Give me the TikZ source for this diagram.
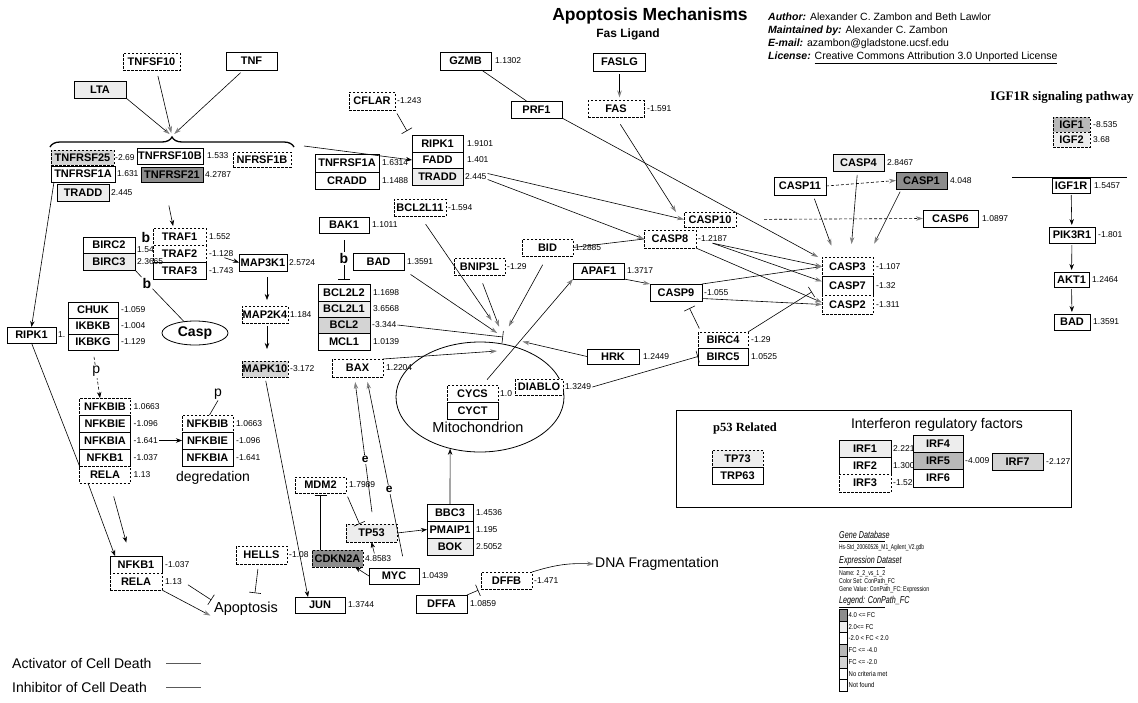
\documentclass[tikz,border=0pt]{standalone}
\usepackage{fontspec}
\setmainfont{Liberation Sans}
\newfontfamily\serifbold{Liberation Serif}
\usetikzlibrary{positioning,shapes.geometric,arrows.meta,decorations.pathreplacing}

\definecolor{fchi}{gray}{0.55}
\definecolor{fcup}{gray}{0.93}
\definecolor{fclo}{gray}{0.72}
\definecolor{fcdn}{gray}{0.83}

\tikzset{
  gene/.style={draw, fill=white, line width=0.8pt, inner sep=0pt, outer sep=0pt,
    minimum height=17pt, font=\fontsize{11}{11}\selectfont\bfseries},
  genedash/.style={gene, dash pattern=on 2.5pt off 1.5pt},
  val/.style={inner sep=1pt, font=\fontsize{8.5}{8.5}\selectfont},
  tag/.style={inner sep=1pt, font=\fontsize{14}{14}\selectfont},
  tagb/.style={inner sep=1pt, font=\fontsize{14}{14}\selectfont\bfseries},
  act/.style={line width=0.6pt, -{Stealth[length=7pt, width=4.5pt, color=gray]}},
  blk/.style={line width=0.6pt, -{Stealth[length=6pt, width=4.5pt]}},
  inh/.style={line width=0.6pt, -{Bar[width=12pt]}},
  link/.style={line width=0.6pt},
  legtext/.style={anchor=west, inner sep=0pt, font=\fontsize{7}{7}\selectfont},
  leghead/.style={anchor=west, inner sep=0pt, font=\fontsize{10}{10}\selectfont\itshape},
}

\begin{document}
\begin{tikzpicture}[x=1pt, y=-1pt]
\useasboundingbox (0,0) rectangle (1138,702);

% header and credits
\node[font=\fontsize{17.5}{17.5}\selectfont\bfseries] (title) at (650,16) {Apoptosis Mechanisms};
\node[font=\fontsize{12}{12}\selectfont\bfseries] (faslig) at (628,34) {Fas Ligand};
\node[anchor=west, inner sep=0pt, font=\fontsize{10.5}{10.5}\selectfont] (auth) at (768,17) {\textbf{\textit{Author:}} Alexander C. Zambon and Beth Lawlor};
\node[anchor=west, inner sep=0pt, font=\fontsize{10.5}{10.5}\selectfont] (maint) at (768,31) {\textbf{\textit{Maintained by:}} Alexander C. Zambon};
\node[anchor=west, inner sep=0pt, font=\fontsize{10.5}{10.5}\selectfont] (email) at (768,44) {\textbf{\textit{E-mail:}} azambon@gladstone.ucsf.edu};
\node[anchor=west, inner sep=0pt, font=\fontsize{10.5}{10.5}\selectfont] (lic) at (768,58) {\textbf{\textit{License:}} \underline{Creative Commons Attribution 3.0 Unported License}};

% ligands and receptors
\node[genedash, minimum width=57pt] (tnfsften) at (151.5,61.5) {TNFSF10};
\node[gene, minimum width=51pt, minimum height=18pt] (tnf) at (251.5,61) {TNF};
\node[gene, fill=fcup, minimum width=52pt] (lta) at (100,89.5) {LTA};
\draw[decorate, decoration={brace, amplitude=10pt}, line width=1.3pt] (50,147) -- (294,147);
\coordinate (recep) at (172,136);
\coordinate (recr) at (304,146);
\node[genedash, fill=fcdn, minimum width=63pt, minimum height=15pt] (tnfrsf25) at (82.5,157.5) {TNFRSF25};
\node[val, right=0pt of tnfrsf25] (tnfrsf25v) {-2.69};
\node[gene, minimum width=66pt, minimum height=16pt] (tnfrsften) at (170,156) {TNFRSF10B};
\node[val, right=3pt of tnfrsften] (tnfrsftenv) {1.533};
\node[genedash, minimum width=58pt, minimum height=15pt] (tnfrsfoneb) at (262,159.5) {NFRSF1B};
\node[gene, minimum width=64pt, minimum height=16pt] (tnfrsfonea) at (83,174) {TNFRSF1A};
\node[val, right=1pt of tnfrsfonea] (tnfrsfoneav) {1.631};
\node[gene, fill=fchi, minimum width=62pt, minimum height=15pt] (tnfrsf21) at (172,174.5) {TNFRSF21};
\node[val, right=1pt of tnfrsf21] (tnfrsf21v) {4.2787};
\node[gene, fill=fcup, minimum width=52pt] (traddA) at (83,192.5) {TRADD};
\node[val, right=1pt of traddA] (traddAv) {2.445};

% TRAF / BIRC / MAP kinases
\node[genedash, minimum width=53pt] (trafone) at (179.5,236.5) {TRAF1};
\node[genedash, minimum width=53pt, below=0pt of trafone] (traftwo) {TRAF2};
\node[gene, minimum width=53pt, below=0pt of traftwo] (trafthree) {TRAF3};
\node[val, right=2pt of trafone] (trafonev) {1.552};
\node[val, right=2pt of traftwo] (traftwov) {-1.128};
\node[val, right=2pt of trafthree] (trafthreev) {-1.743};
\node[gene, minimum width=52pt, minimum height=16pt] (birctwo) at (109,245) {BIRC2};
\node[gene, fill=fcup, minimum width=52pt, below=0pt of birctwo] (bircthree) {BIRC3};
\node[val, anchor=west] (birctwov) at ([xshift=1pt, yshift=-4.5pt]birctwo.east) {1.54};
\node[val, right=1pt of bircthree] (bircthreev) {2.3665};
\node[tagb] (bA) at (146,237.5) {b};
\node[tagb] (bB) at (147,283) {b};
\node[draw, ellipse, line width=0.8pt, minimum width=66pt, minimum height=24pt, inner sep=0pt,
  font=\fontsize{14}{14}\selectfont\bfseries] (casp) at (195,333) {Casp};
\node[gene, minimum width=48pt] (mapthreek) at (263,262.5) {MAP3K1};
\node[val, right=1pt of mapthreek] (mapthreekv) {2.5724};
\node[genedash, minimum width=46pt] (maptwok) at (265,314.5) {MAP2K4};
\node[val, right=1pt of maptwok] (maptwokv) {1.184};
\node[genedash, fill=fcdn, minimum width=46pt, minimum height=16pt] (mapkten) at (265,369) {MAPK10};
\node[val, right=1pt of mapkten] (mapktenv) {-3.172};

% IKK and NF-kB
\node[gene, minimum width=50pt, minimum height=16pt] (chuk) at (93,310) {CHUK};
\node[gene, minimum width=50pt, minimum height=16pt, below=0pt of chuk] (ikbkb) {IKBKB};
\node[gene, minimum width=50pt, minimum height=16pt, below=0pt of ikbkb] (ikbkg) {IKBKG};
\node[val, right=2pt of chuk] (chukv) {-1.059};
\node[val, right=2pt of ikbkb] (ikbkbv) {-1.004};
\node[val, right=2pt of ikbkg] (ikbkgv) {-1.129};
\node[gene, minimum width=49pt, minimum height=16pt] (ripkA) at (31.5,335) {RIPK1};
\node[val, right=1pt of ripkA] (ripkAv) {1.};
\node[genedash, minimum width=51pt] (nfkbibA) at (105,406.5) {NFKBIB};
\node[gene, minimum width=51pt, below=0pt of nfkbibA] (nfkbieA) {NFKBIE};
\node[gene, minimum width=51pt, below=0pt of nfkbieA] (nfkbiaA) {NFKBIA};
\node[gene, minimum width=51pt, below=0pt of nfkbiaA] (nfkbA) {NFKB1};
\node[genedash, minimum width=51pt, below=0pt of nfkbA] (relaA) {RELA};
\node[val, right=2pt of nfkbibA] (nfkbibAv) {1.0663};
\node[val, right=2pt of nfkbieA] (nfkbieAv) {-1.096};
\node[val, right=2pt of nfkbiaA] (nfkbiaAv) {-1.641};
\node[val, right=2pt of nfkbA] (nfkbAv) {-1.037};
\node[val, right=2pt of relaA] (relaAv) {1.13};
\node[genedash, minimum width=51pt] (nfkbibB) at (207.5,423.5) {NFKBIB};
\node[gene, minimum width=51pt, below=0pt of nfkbibB] (nfkbieB) {NFKBIE};
\node[gene, minimum width=51pt, below=0pt of nfkbieB] (nfkbiaB) {NFKBIA};
\node[val, right=2pt of nfkbibB] (nfkbibBv) {1.0663};
\node[val, right=2pt of nfkbieB] (nfkbieBv) {-1.096};
\node[val, right=2pt of nfkbiaB] (nfkbiaBv) {-1.641};
\node[tag] (pB) at (218,394) {p};
\node[tag] (degr) at (213,478) {degredation};
\node[gene, minimum width=52pt] (nfkbB) at (136,564.5) {NFKB1};
\node[genedash, minimum width=52pt, below=0pt of nfkbB] (relaB) {RELA};
\node[val, right=2pt of nfkbB] (nfkbBv) {-1.037};
\node[val, right=2pt of relaB] (relaBv) {1.13};
\node[font=\fontsize{14.5}{14.5}\selectfont, inner sep=1pt] (apop) at (246,609) {Apoptosis};
\node[genedash, minimum width=51pt, minimum height=18pt] (hells) at (261.5,555) {HELLS};
\node[val, right=1pt of hells] (hellsv) {-1.08};
\node[gene, minimum width=50pt, minimum height=16pt] (jun) at (320,605) {JUN};
\node[val, right=2pt of jun] (junv) {1.3744};

% p53, MYC, DFF
\node[genedash, minimum width=51pt, minimum height=16pt] (mdm) at (320.5,485) {MDM2};
\node[val, right=2pt of mdm] (mdmv) {1.7989};
\node[genedash, fill=fcup, minimum width=51pt, minimum height=18pt] (tpft) at (371.5,533) {TP53};
\node[genedash, fill=fchi, minimum width=51pt] (cdkn) at (337.5,558.5) {CDKN2A};
\node[val, right=1pt of cdkn] (cdknv) {4.8583};
\node[gene, minimum width=50pt, minimum height=16pt] (myc) at (394,576) {MYC};
\node[val, right=2pt of myc] (mycv) {1.0439};
\node[gene, minimum width=46pt] (bbcthree) at (450,512.5) {BBC3};
\node[gene, minimum width=46pt, below=0pt of bbcthree] (pmaip) {PMAIP1};
\node[gene, fill=fcup, minimum width=46pt, below=0pt of pmaip] (bok) {BOK};
\node[val, right=2pt of bbcthree] (bbcthreev) {1.4536};
\node[val, right=2pt of pmaip] (pmaipv) {1.195};
\node[val, right=2pt of bok] (bokv) {2.5052};
\node[gene, minimum width=51pt, minimum height=18pt] (dffa) at (441.5,604) {DFFA};
\node[val, right=2pt of dffa] (dffav) {1.0859};
\node[genedash, minimum width=51pt] (dffb) at (506.5,580.5) {DFFB};
\node[val, right=1pt of dffb] (dffbv) {-1.471};
\node[font=\fontsize{14}{14}\selectfont, inner sep=1pt] (dna) at (657,564) {DNA Fragmentation};

% mitochondrion and BCL2 family
\node[draw, ellipse, line width=0.8pt, minimum width=168pt, minimum height=110pt] (mito) at (480,397) {};
\node[font=\fontsize{14.5}{14.5}\selectfont] (mitolab) at (478,427) {Mitochondrion};
\node[genedash, minimum width=51pt] (cycs) at (472.5,393.5) {CYCS};
\node[val, right=1pt of cycs] (cycsv) {1.0};
\node[gene, minimum width=51pt, below=0pt of cycs] (cyct) {CYCT};
\node[genedash, minimum width=48pt, minimum height=16pt] (diablo) at (539,387) {DIABLO};
\node[val, right=1pt of diablo] (diablov) {1.3249};
\coordinate (mpt) at (503,337);
\coordinate (mbax) at (497,351);
\node[gene, minimum width=50pt, minimum height=16pt] (bakone) at (344,225) {BAK1};
\node[val, right=2pt of bakone] (bakonev) {1.1011};
\node[gene, minimum width=51pt] (badM) at (378.5,261.5) {BAD};
\node[val, right=2pt of badM] (badMv) {1.3591};
\node[gene, minimum width=52pt] (bcltwoltwo) at (344,292.5) {BCL2L2};
\node[gene, fill=fcup, minimum width=52pt, minimum height=16pt, below=0pt of bcltwoltwo] (bcltwolone) {BCL2L1};
\node[gene, fill=fcdn, minimum width=52pt, minimum height=16pt, below=0pt of bcltwolone] (bcltwo) {BCL2};
\node[gene, minimum width=52pt, below=0pt of bcltwo] (mclone) {MCL1};
\node[val, right=2pt of bcltwoltwo] (bcltwoltwov) {1.1698};
\node[val, right=2pt of bcltwolone] (bcltwolonev) {3.6568};
\node[val, right=1pt of bcltwo] (bcltwov) {-3.344};
\node[val, right=2pt of mclone] (mclonev) {1.0139};
\node[genedash, minimum width=51pt, minimum height=18pt] (bax) at (357.5,368) {BAX};
\node[val, right=2pt of bax] (baxv) {1.2204};
\node[genedash, minimum width=52pt] (bcltwolelev) at (420,207.5) {BCL2L11};
\node[val, right=1pt of bcltwolelev] (bcltwolelevv) {-1.594};
\node[genedash, minimum width=51pt] (bnip) at (479.5,266.5) {BNIP3L};
\node[val, right=1pt of bnip] (bnipv) {-1.29};
\node[genedash, minimum width=51pt] (bid) at (547.5,247.5) {BID};
\node[val, right=1pt of bid] (bidv) {1.2885};
\node[gene, minimum width=51pt, minimum height=16pt] (apaf) at (598.5,271) {APAF1};
\node[val, right=2pt of apaf] (apafv) {1.3717};
\node[gene, minimum width=52pt, minimum height=15pt] (hrk) at (613,356.5) {HRK};
\node[val, right=3pt of hrk] (hrkv) {1.2449};

% death receptor complexes
\node[genedash, minimum width=46pt, minimum height=18pt] (cflar) at (372,101) {CFLAR};
\node[val, right=1pt of cflar] (cflarv) {-1.243};
\node[gene, minimum width=51pt] (ripkB) at (437.5,143.5) {RIPK1};
\node[gene, minimum width=51pt, minimum height=16pt, below=0pt of ripkB] (fadd) {FADD};
\node[gene, fill=fcup, minimum width=51pt, below=0pt of fadd] (traddB) {TRADD};
\node[val, right=3pt of ripkB] (ripkBv) {1.9101};
\node[val, right=3pt of fadd] (faddv) {1.401};
\node[val, right=1pt of traddB] (traddBv) {2.445};
\node[gene, minimum width=64pt, minimum height=18pt] (tnfrsfoneaB) at (347,163) {TNFRSF1A};
\node[gene, minimum width=64pt, below=0pt of tnfrsfoneaB] (cradd) {CRADD};
\node[val, right=2pt of tnfrsfoneaB] (tnfrsfoneaBv) {1.6314};
\node[val, right=2pt of cradd] (craddv) {1.1488};
\node[gene, minimum width=51pt, minimum height=18pt] (gzmb) at (465.5,61) {GZMB};
\node[val, right=3pt of gzmb] (gzmbv) {1.1302};
\node[gene, minimum width=51pt] (prfone) at (536.5,109.5) {PRF1};
\node[gene, minimum width=52pt, minimum height=18pt] (faslg) at (619.5,62) {FASLG};
\node[genedash, minimum width=56pt] (fas) at (616,109) {FAS};
\node[val, right=2pt of fas] (fasv) {-1.591};

% caspases
\node[genedash, minimum width=52pt, minimum height=15pt] (caspten) at (710,219.5) {CASP10};
\node[genedash, minimum width=52pt, minimum height=18pt] (caspeight) at (670,239) {CASP8};
\node[val, right=1pt of caspeight] (caspeightv) {-1.2187};
\node[gene, minimum width=52pt] (caspnine) at (676,292.5) {CASP9};
\node[val, right=1pt of caspnine] (caspninev) {-1.055};
\node[genedash, minimum width=50pt, minimum height=16pt] (bircfour) at (723,340) {BIRC4};
\node[gene, minimum width=50pt, below=0pt of bircfour] (bircfive) {BIRC5};
\node[val, right=2pt of bircfour] (bircfourv) {-1.29};
\node[val, right=2pt of bircfive] (bircfivev) {1.0525};
\node[genedash, minimum width=51pt, minimum height=19pt] (caspthree) at (847.5,266.5) {CASP3};
\node[gene, minimum width=51pt, minimum height=19pt, below=0pt of caspthree] (caspseven) {CASP7};
\node[genedash, minimum width=51pt, minimum height=19pt, below=0pt of caspseven] (casptwo) {CASP2};
\node[val, right=2pt of caspthree] (caspthreev) {-1.107};
\node[val, right=2pt of caspseven] (caspsevenv) {-1.32};
\node[val, right=2pt of casptwo] (casptwov) {-1.311};
\node[gene, fill=fcup, minimum width=51pt] (caspfour) at (858.5,162.5) {CASP4};
\node[val, right=2pt of caspfour] (caspfourv) {2.8467};
\node[gene, minimum width=52pt, minimum height=18pt] (caspeleven) at (800,186) {CASP11};
\node[gene, fill=fchi, minimum width=51pt] (caspone) at (921.5,180.5) {CASP1};
\node[val, right=2pt of caspone] (casponev) {4.048};
\node[gene, minimum width=55pt] (caspsix) at (950.5,218.5) {CASP6};
\node[val, right=3pt of caspsix] (caspsixv) {1.0897};

% IGF1R signaling
\node[font=\fontsize{13}{13}\selectfont\serifbold\bfseries] (igftitle) at (1062,97) {IGF1R signaling pathway};
\node[genedash, fill=fclo, minimum width=37pt, minimum height=15pt] (igfone) at (1071.5,124.5) {IGF1};
\node[genedash, fill=fcup, minimum width=37pt, minimum height=15pt, below=0pt of igfone] (igftwo) {IGF2};
\node[val, right=2pt of igfone] (igfonev) {-8.535};
\node[val, right=2pt of igftwo] (igftwov) {3.68};
\draw[link] (1012,177) -- (1127,177);
\node[gene, minimum width=38pt, minimum height=15pt] (igfr) at (1071,185.5) {IGF1R};
\node[val, right=3pt of igfr] (igfrv) {1.5457};
\node[gene, minimum width=46pt, minimum height=16pt] (pik) at (1072,235) {PIK3R1};
\node[val, right=2pt of pik] (pikv) {-1.801};
\node[gene, minimum width=35pt, minimum height=15pt] (akt) at (1071.5,279.5) {AKT1};
\node[val, right=2pt of akt] (aktv) {1.2464};
\node[gene, minimum width=36pt, minimum height=16pt] (badR) at (1072,322) {BAD};
\node[val, right=2pt of badR] (badRv) {1.3591};

% p53 related and IRF panel
\draw[line width=0.8pt] (676,410) rectangle (1071,507);
\node[font=\fontsize{12.5}{12.5}\selectfont\serifbold\bfseries] (ptitle) at (745,428) {p53 Related};
\node[font=\fontsize{14}{14}\selectfont] (irftitle) at (937,425) {Interferon regulatory factors};
\node[genedash, fill=fcup, minimum width=51pt] (tpst) at (737.5,458.5) {TP73};
\node[gene, minimum width=51pt, below=0pt of tpst] (trp) {TRP63};
\node[gene, fill=fcup, minimum width=52pt] (irfone) at (865,448.5) {IRF1};
\node[gene, minimum width=52pt, below=0pt of irfone] (irftwo) {IRF2};
\node[genedash, minimum width=52pt, minimum height=18pt, below=0pt of irftwo] (irfthree) {IRF3};
\node[val, right=1pt of irfone] (irfonev) {2.221};
\node[val, right=1pt of irftwo] (irftwov) {1.300};
\node[val, right=1pt of irfthree] (irfthreev) {-1.52};
\node[gene, fill=fcup, minimum width=50pt] (irffour) at (938,443.5) {IRF4};
\node[gene, fill=fclo, minimum width=50pt, below=0pt of irffour] (irffive) {IRF5};
\node[gene, minimum width=50pt, minimum height=18pt, below=0pt of irffive] (irfsix) {IRF6};
\node[val, right=1pt of irffive] (irffivev) {-4.009};
\node[gene, fill=fcdn, minimum width=51pt] (irfseven) at (1017.5,461.5) {IRF7};
\node[val, right=2pt of irfseven] (irfsevenv) {-2.127};

% data set legend
\node[leghead] (gdbhead) at (839,535) {\scalebox{0.72}[1]{Gene Database}};
\draw[line width=0.5pt] (839,541) -- (885,541);
\node[legtext] (gdbname) at (839,548) {\scalebox{0.7}[1]{Hs-Std\_20060526\_M1\_Agilent\_V2.gdb}};
\node[leghead] (exphead) at (839,561) {\scalebox{0.72}[1]{Expression Dataset}};
\draw[line width=0.5pt] (839,567) -- (885,567);
\node[legtext] (expname) at (839,574) {\scalebox{0.75}[1]{Name: 2\_2\_vs\_1\_2}};
\node[legtext] (expset) at (839,582) {\scalebox{0.75}[1]{Color Set: ConPath\_FC}};
\node[legtext] (expval) at (839,590) {\scalebox{0.75}[1]{Gene Value: ConPath\_FC: Expression}};
\node[leghead] (leghd) at (839,601) {\scalebox{0.72}[1]{Legend: ConPath\_FC}};
\draw[line width=0.5pt] (839,607) -- (885,607);
\foreach \swc/\swt [count=\i from 0] in {fchi/{4.0 <= FC}, fcup/{2.0<= FC}, white/{-2.0 < FC < 2.0},
    fclo/{FC <= -4.0}, fcdn/{FC <= -2.0}, white/{No criteria met}, white/{Not found}}
{
  \node[draw, fill=\swc, line width=0.5pt, minimum width=8pt, minimum height=11.7pt, inner sep=0pt,
    anchor=north west] (sw\i) at (839,{609+11.7*\i}) {};
  \node[legtext, right=1pt of sw\i] (swl\i) {\scalebox{0.85}[1]{\swt}};
}

% line legend
\node[anchor=west, inner sep=0pt, font=\fontsize{14}{14}\selectfont] (actlab) at (12,663) {Activator of Cell Death};
\node[anchor=west, inner sep=0pt, font=\fontsize{14}{14}\selectfont] (inhlab) at (12,687) {Inhibitor of Cell Death};
\draw[link, gray!70!black] (166,663) -- (201,663);
\draw[link, gray!70!black] (166,687) -- (201,687);

% --- connectors ---
\draw[act, shorten >=3pt] (lta.south east) -- (recep);
\draw[act, shorten <=6pt, shorten >=3pt] ([xshift=5pt]tnfsften.south) -- (recep);
\draw[act, shorten <=4pt, shorten >=3pt] ([xshift=-8pt]tnf.south) -- (recep);
\draw[blk] (recr) -- (fadd.west);
\draw[blk, shorten <=24pt, shorten >=2pt] ([xshift=-8pt]tnfrsf21.south) -- ([xshift=-6pt]trafone.north);
\draw[blk] ([xshift=-10pt]traftwov.south east) -- (mapthreek.west);
\draw[blk, shorten <=6pt, shorten >=6pt] ([xshift=4pt]mapthreek.south) -- ([xshift=2pt]maptwok.north);
\draw[blk, shorten <=3pt, shorten >=12pt] ([xshift=2pt]maptwok.south) -- ([xshift=2pt]mapkten.north);
\draw[link] (bircthree.south east) -- (bB);
\draw[link] (bB) -- (casp);
\draw[blk] ([xshift=3pt]tnfrsfonea.south west) -- (ripkA.north);
\draw[link] (ripkA.south) -- (nfkbA.south west);
\draw[blk, dash pattern=on 3pt off 2pt, shorten <=7pt] (ikbkg.south) -- node[tag, fill=white, pos=0.45] (pA) {p} ([xshift=-5pt]nfkbibA.north);
\draw[blk] (nfkbiaAv.east) -- (nfkbieB.west);
\draw[link] (pB.south) -- ([xshift=2pt]nfkbibB.north);
\draw[blk] ([xshift=-17pt]relaA.south) -- ([xshift=-21pt]nfkbB.north);
\draw[blk, shorten <=14pt, shorten >=14pt] ([xshift=5pt]relaA.south) -- ([xshift=-6pt]nfkbB.north);
\draw[act, shorten >=3pt] (relaB.south east) -- (apop.south west);
\draw[inh, shorten <=6pt, shorten >=2pt] (relaBv.east) -- (apop.north west);
\draw[inh, shorten <=5pt, shorten >=8pt] ([xshift=-3pt]hells.south) -- ([xshift=8pt]apop.north);
\draw[blk, shorten <=4pt] (mapkten.south) -- ([xshift=-12pt]jun.north);
\draw[inh, shorten <=4pt] (mdm.south east) -- ([xshift=-12pt]tpft.north);
\draw[inh, shorten >=2pt] (mdm.south |- cdkn.north) -- (mdm.south);
\draw[blk] (myc.west) -- ([xshift=-8pt]cdkn.south east);
\draw[blk, shorten <=15pt] ([xshift=-16pt]myc.north) -- (tpft.south);
\draw[act, shorten <=12pt, shorten >=5pt] ([xshift=2pt]tpft.north) -- node[tagb, fill=white, pos=0.44, font=\fontsize{12}{12}\selectfont\bfseries] (eA) {e} ([xshift=-3pt]bax.south);
\draw[act, shorten <=12pt, shorten >=5pt] ([xshift=11pt]myc.north) -- node[tagb, fill=white, pos=0.41, font=\fontsize{12}{12}\selectfont\bfseries] (eB) {e} ([xshift=9pt]bax.south);
\draw[blk] (tpft.east) -- (pmaip.west);
\draw[blk] (bbcthree.north) -- (mito.-120);
\draw[inh, shorten >=3pt] (dffa.north east) -- (dffb.south west);
\draw[act] (dffb.north east) to[bend left=10] (dna.west);
\draw[inh, shorten <=4pt] (cflar.south east) -- ([xshift=-5pt, yshift=4pt]ripkB.north west);
\draw[link] ([xshift=16pt]gzmb.south) -- ([xshift=-10pt]prfone.north);
\draw[act] (prfone.south east) -- ([xshift=-4pt]caspthree.north west);
\draw[act, shorten <=3pt, shorten >=3pt] (faslg.south) -- (faslg.south |- fas.north);
\draw[act, shorten <=8pt] (fas.south) -- ([xshift=-8pt]caspten.north west);
\draw[act] ([yshift=3pt]traddBv.east) -- (caspten.west);
\draw[act] ([yshift=-3pt]traddBv.east) -- (caspeight.west);
\draw[link] (caspeight.west) -- (bid.east);
\draw[act, shorten <=10pt, shorten >=20pt] (bcltwolelev.south) -- (mpt);
\draw[act, shorten <=8pt, shorten >=7pt] (badM.south east) -- (mpt);
\draw[act, shorten <=9pt, shorten >=11pt] (bnip.south) -- (mpt);
\draw[act, shorten <=10pt, shorten >=12pt] (bid.south) -- (mpt);
\draw[act, shorten >=20pt] (hrk.west) -- (mpt);
\draw[inh] (bcltwov.east) -- (mpt);
\draw[act] (bax.north east) -- (mbax);
\draw[act, shorten <=7pt] ([xshift=10pt]cycs.north) -- (apaf.south west);
\draw[inh, shorten <=7pt, shorten >=4pt] (bakone.south) -- node[tagb, fill=white] (bC) {b} (bakone.south |- bcltwoltwo.north);
\draw[act] (apaf.south east) -- (caspnine.north west);
\draw[act] (caspnine.north east) -- (caspthree.west);
\draw[act] ([yshift=-6pt]caspnine.east) -- (casptwo.west);
\draw[act] (caspeightv.south) -- (caspthree.west);
\draw[act] (caspeightv.south) -- ([yshift=4pt]caspseven.west);
\draw[act] (caspeight.south east) -- ([yshift=2pt]casptwo.west);
\draw[inh, shorten <=4pt, shorten >=8pt] ([xshift=3pt]bircfour.north west) -- ([xshift=10pt]caspnine.south);
\draw[inh, shorten >=12pt] (bircfour.north east) -- (caspseven.west);
\draw[inh] (diablov.east) -- (bircfive.west);
\draw[act, dash pattern=on 3pt off 2pt, shorten <=28pt] (caspten.east) -- (caspsix.west);
\draw[act, dash pattern=on 3pt off 2pt] (caspeleven.east) -- (caspone.west);
\draw[act, shorten <=4pt, shorten >=12pt] ([xshift=13pt]caspeleven.south) -- ([xshift=-12pt]caspthree.north);
\draw[act, shorten <=4pt, shorten >=13pt] ([xshift=-1pt]caspfour.south) -- ([xshift=3pt]caspthree.north);
\draw[act, shorten <=3pt, shorten >=15pt] ([xshift=-20pt]caspone.south) -- ([xshift=20pt]caspthree.north);
\draw[blk, shorten <=2pt, shorten >=2pt] (igfr) -- (pik);
\draw[blk, shorten <=2pt, shorten >=2pt] (pik) -- (akt);
\draw[blk, shorten <=2pt, shorten >=2pt] (akt) -- (badR);
\end{tikzpicture}
\end{document}
